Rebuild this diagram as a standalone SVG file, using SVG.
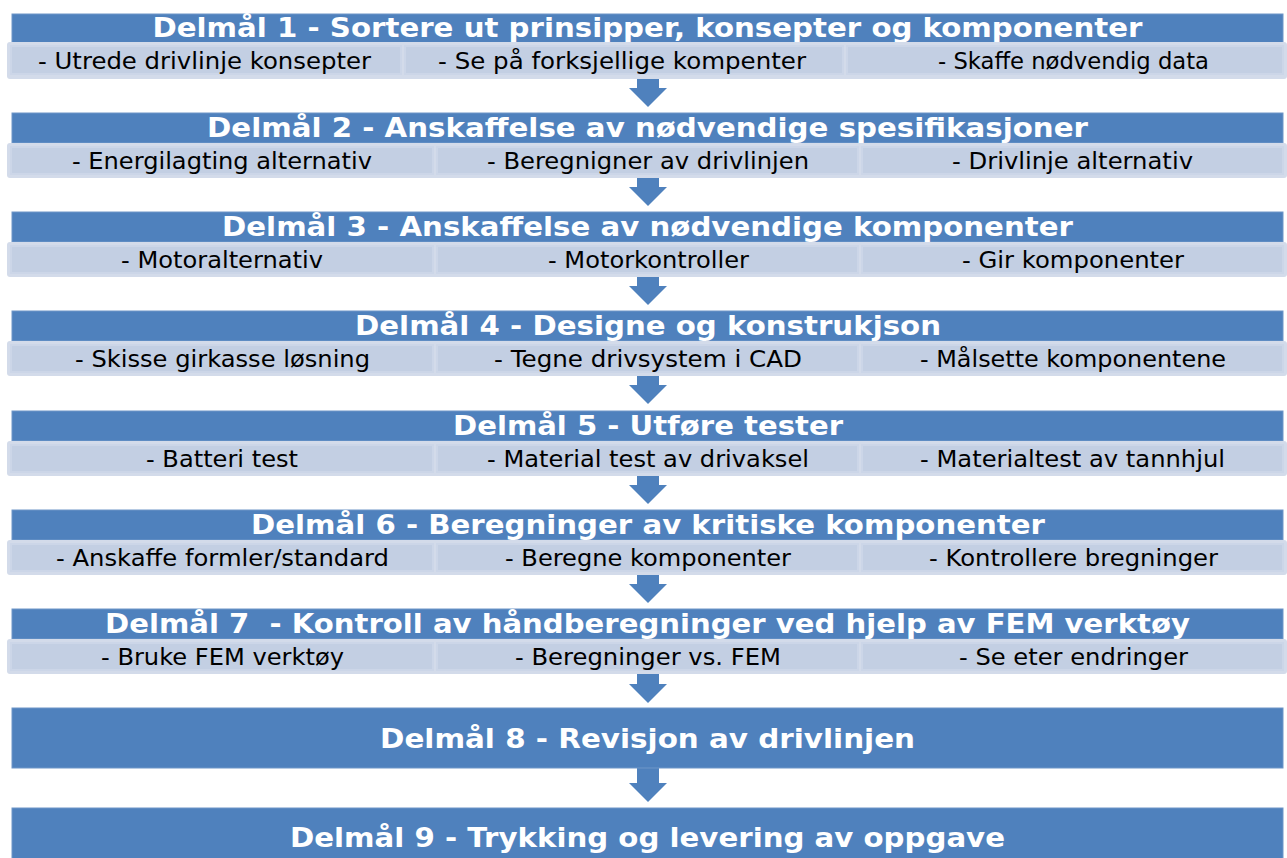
<svg xmlns="http://www.w3.org/2000/svg" width="1287" height="858" viewBox="0 0 1287 858">
<style>
.hd{fill:#4F81BD;stroke:#6F96C8;stroke-width:1}
.sub{fill:#D3DBEA}
.cell{fill:#C3CFE3;stroke:#CCD6E8;stroke-width:2}
.ht{font-family:"DejaVu Sans",Verdana,sans-serif;font-weight:bold;font-size:27px;fill:#FFFFFF;text-anchor:middle}
.st{font-family:"DejaVu Sans",Verdana,sans-serif;font-size:23px;fill:#000000;text-anchor:middle}
.arr{fill:#4F81BD}
</style>
<rect width="1287" height="858" fill="#FFFFFF"/>
<g id="connectors">
<path class="arr" d="M637,76 H659 V88 H667 L648,107 L629,88 H637 Z"/>
<path class="arr" d="M637,176 H659 V187 H667 L648,206 L629,187 H637 Z"/>
<path class="arr" d="M637,275 H659 V286 H667 L648,305 L629,286 H637 Z"/>
<path class="arr" d="M637,374 H659 V385 H667 L648,404 L629,385 H637 Z"/>
<path class="arr" d="M637,474 H659 V485 H667 L648,504 L629,485 H637 Z"/>
<path class="arr" d="M637,573 H659 V584 H667 L648,603 L629,584 H637 Z"/>
<path class="arr" d="M637,672 H659 V684 H667 L648,703 L629,684 H637 Z"/>
<path class="arr" d="M637,768 H659 V783 H667 L648,802 L629,783 H637 Z"/>
</g>
<g id="node1">
<rect class="hd" x="12" y="14" width="1271" height="30"/>
<text class="ht" x="647.5" y="37" textLength="990" lengthAdjust="spacingAndGlyphs">Delmål 1 - Sortere ut prinsipper, konsepter og komponenter</text>
<rect class="sub" x="7" y="42" width="1280" height="37" rx="3"/>
<rect class="cell" x="11" y="46" width="390" height="28"/>
<rect class="cell" x="405" y="46" width="438" height="28"/>
<rect class="cell" x="847" y="46" width="436" height="28"/>
<text class="st" x="204.5" y="69" textLength="333" lengthAdjust="spacingAndGlyphs">- Utrede drivlinje konsepter</text>
<text class="st" x="622" y="69" textLength="368" lengthAdjust="spacingAndGlyphs">- Se på forksjellige kompenter</text>
<text class="st" x="1073.5" y="69" textLength="271" lengthAdjust="spacingAndGlyphs">- Skaffe nødvendig data</text>
</g>
<g id="node2">
<rect class="hd" x="12" y="113" width="1271" height="30"/>
<text class="ht" x="647.5" y="137" textLength="881" lengthAdjust="spacingAndGlyphs">Delmål 2 - Anskaffelse av nødvendige spesifikasjoner</text>
<rect class="sub" x="7" y="143" width="1280" height="35" rx="3"/>
<rect class="cell" x="11" y="147" width="422" height="27"/>
<rect class="cell" x="437" y="147" width="421" height="27"/>
<rect class="cell" x="862" y="147" width="421" height="27"/>
<text class="st" x="222" y="169" textLength="300" lengthAdjust="spacingAndGlyphs">- Energilagting alternativ</text>
<text class="st" x="648" y="169" textLength="322" lengthAdjust="spacingAndGlyphs">- Beregnigner av drivlinjen</text>
<text class="st" x="1072.5" y="169" textLength="241" lengthAdjust="spacingAndGlyphs">- Drivlinje alternativ</text>
</g>
<g id="node3">
<rect class="hd" x="12" y="212" width="1271" height="30"/>
<text class="ht" x="647.5" y="236" textLength="851" lengthAdjust="spacingAndGlyphs">Delmål 3 - Anskaffelse av nødvendige komponenter</text>
<rect class="sub" x="7" y="242" width="1280" height="35" rx="3"/>
<rect class="cell" x="11" y="246" width="422" height="27"/>
<rect class="cell" x="437" y="246" width="421" height="27"/>
<rect class="cell" x="862" y="246" width="421" height="27"/>
<text class="st" x="222" y="268" textLength="202" lengthAdjust="spacingAndGlyphs">- Motoralternativ</text>
<text class="st" x="648.5" y="268" textLength="201" lengthAdjust="spacingAndGlyphs">- Motorkontroller</text>
<text class="st" x="1073" y="268" textLength="222" lengthAdjust="spacingAndGlyphs">- Gir komponenter</text>
</g>
<g id="node4">
<rect class="hd" x="12" y="311" width="1271" height="30"/>
<text class="ht" x="648" y="335" textLength="586" lengthAdjust="spacingAndGlyphs">Delmål 4 - Designe og konstrukjson</text>
<rect class="sub" x="7" y="341" width="1280" height="35" rx="3"/>
<rect class="cell" x="11" y="345" width="422" height="27"/>
<rect class="cell" x="437" y="345" width="421" height="27"/>
<rect class="cell" x="862" y="345" width="421" height="27"/>
<text class="st" x="222.5" y="367" textLength="295" lengthAdjust="spacingAndGlyphs">- Skisse girkasse løsning</text>
<text class="st" x="648" y="367" textLength="308" lengthAdjust="spacingAndGlyphs">- Tegne drivsystem i CAD</text>
<text class="st" x="1073" y="367" textLength="306" lengthAdjust="spacingAndGlyphs">- Målsette komponentene</text>
</g>
<g id="node5">
<rect class="hd" x="12" y="411" width="1271" height="30"/>
<text class="ht" x="648" y="435" textLength="390" lengthAdjust="spacingAndGlyphs">Delmål 5 - Utføre tester</text>
<rect class="sub" x="7" y="441" width="1280" height="35" rx="3"/>
<rect class="cell" x="11" y="445" width="422" height="27"/>
<rect class="cell" x="437" y="445" width="421" height="27"/>
<rect class="cell" x="862" y="445" width="421" height="27"/>
<text class="st" x="222" y="467" textLength="152" lengthAdjust="spacingAndGlyphs">- Batteri test</text>
<text class="st" x="648" y="467" textLength="322" lengthAdjust="spacingAndGlyphs">- Material test av drivaksel</text>
<text class="st" x="1072.5" y="467" textLength="305" lengthAdjust="spacingAndGlyphs">- Materialtest av tannhjul</text>
</g>
<g id="node6">
<rect class="hd" x="12" y="510" width="1271" height="30"/>
<text class="ht" x="648" y="534" textLength="794" lengthAdjust="spacingAndGlyphs">Delmål 6 - Beregninger av kritiske komponenter</text>
<rect class="sub" x="7" y="540" width="1280" height="35" rx="3"/>
<rect class="cell" x="11" y="544" width="422" height="27"/>
<rect class="cell" x="437" y="544" width="421" height="27"/>
<rect class="cell" x="862" y="544" width="421" height="27"/>
<text class="st" x="222.5" y="566" textLength="333" lengthAdjust="spacingAndGlyphs">- Anskaffe formler/standard</text>
<text class="st" x="648" y="566" textLength="286" lengthAdjust="spacingAndGlyphs">- Beregne komponenter</text>
<text class="st" x="1073.5" y="566" textLength="289" lengthAdjust="spacingAndGlyphs">- Kontrollere bregninger</text>
</g>
<g id="node7">
<rect class="hd" x="12" y="609" width="1271" height="30"/>
<text class="ht" x="647.5" y="633" textLength="1085" lengthAdjust="spacingAndGlyphs" xml:space="preserve">Delmål 7  - Kontroll av håndberegninger ved hjelp av FEM verktøy</text>
<rect class="sub" x="7" y="639" width="1280" height="35" rx="3"/>
<rect class="cell" x="11" y="643" width="422" height="27"/>
<rect class="cell" x="437" y="643" width="421" height="27"/>
<rect class="cell" x="862" y="643" width="421" height="27"/>
<text class="st" x="222.5" y="665" textLength="243" lengthAdjust="spacingAndGlyphs">- Bruke FEM verktøy</text>
<text class="st" x="648" y="665" textLength="266" lengthAdjust="spacingAndGlyphs">- Beregninger vs. FEM</text>
<text class="st" x="1073.5" y="665" textLength="229" lengthAdjust="spacingAndGlyphs">- Se eter endringer</text>
</g>
<g id="node8">
<rect class="hd" x="12" y="708" width="1271" height="60"/>
<text class="ht" x="647.5" y="748" textLength="535" lengthAdjust="spacingAndGlyphs">Delmål 8 - Revisjon av drivlinjen</text>
</g>
<g id="node9">
<rect class="hd" x="12" y="808" width="1271" height="60"/>
<text class="ht" x="647.5" y="847" textLength="715" lengthAdjust="spacingAndGlyphs">Delmål 9 - Trykking og levering av oppgave</text>
</g>
</svg>
